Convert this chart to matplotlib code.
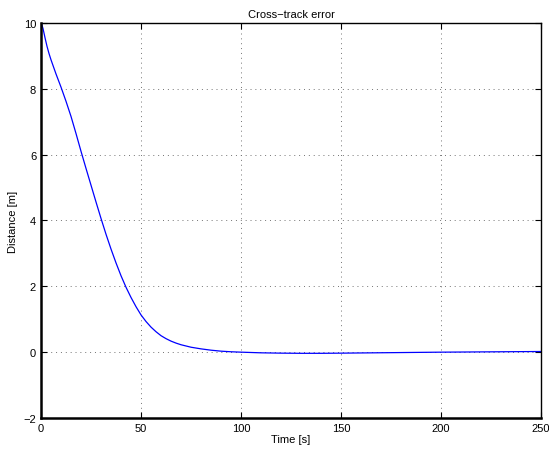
import matplotlib
matplotlib.use("Agg")
import matplotlib.pyplot as plt

# time samples [s] and cross-track error [m]
time_s = [0, 0.5, 1, 2, 3, 4, 5, 7.5, 10, 12.5, 15, 17.5, 20, 22.5, 25,
          27.5, 30, 32.5, 35, 37.5, 40, 42.5, 45, 47.5, 50, 52.5, 55,
          57.5, 60, 62.5, 65, 67.5, 70, 75, 80, 85, 90, 95, 100, 110, 120,
          130, 140, 150, 175, 200, 225, 250]
error_m = [10.0, 9.93, 9.83, 9.55, 9.29, 9.07, 8.88, 8.45, 8.05, 7.62,
           7.16, 6.64, 6.1, 5.58, 5.07, 4.56, 4.06, 3.58, 3.13, 2.71, 2.32,
           1.97, 1.66, 1.38, 1.13, 0.93, 0.76, 0.62, 0.5, 0.41, 0.335,
           0.275, 0.225, 0.15, 0.1, 0.06, 0.03, 0.012, 0.0, -0.02, -0.03,
           -0.035, -0.035, -0.03, -0.015, 0.0, 0.01, 0.02]

x_ticks = [0, 50, 100, 150, 200, 250]
y_ticks = [-2, 0, 2, 4, 6, 8, 10]

plt.rcParams["font.family"] = ["Liberation Sans", "DejaVu Sans"]
plt.rcParams["font.size"] = 8

fig = plt.figure(figsize=(5.49, 4.52), dpi=100)
ax = fig.add_axes([0.0747, 0.073, 0.911, 0.874])

ax.plot(time_s, error_m, color="blue", linewidth=0.9)

ax.set_xlim(0, 250)
ax.set_ylim(-2, 10)
ax.set_xticks(x_ticks)
ax.set_yticks(y_ticks)
ax.grid(True, linestyle=(0, (1, 4)), color="0.45", linewidth=0.7)
ax.tick_params(direction="in", top=True, right=True, length=4, width=0.8)
ax.spines["left"].set_linewidth(1.8)
ax.spines["bottom"].set_linewidth(1.8)
ax.spines["top"].set_linewidth(1.0)
ax.spines["right"].set_linewidth(1.0)

ax.set_title("Cross\u2212track error", fontsize=8, pad=4)
ax.set_xlabel("Time [s]", labelpad=1)
ax.set_ylabel("Distance [m]", labelpad=4)

fig.savefig("out.png", dpi=100)
